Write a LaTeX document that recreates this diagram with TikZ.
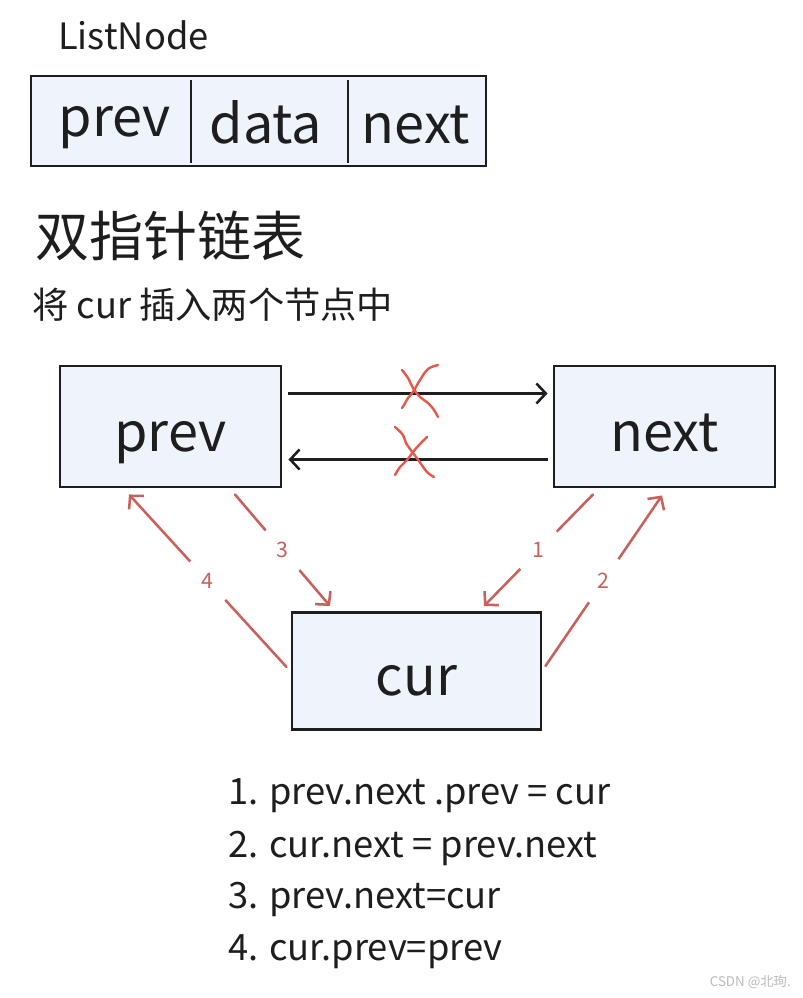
\documentclass[tikz,border=0pt]{standalone}
\usepackage{fontspec}
\setmainfont{Noto Sans CJK SC}
\usetikzlibrary{arrows.meta}
\definecolor{boxfill}{HTML}{EFF3FB}
\definecolor{ink}{HTML}{1E1E1E}
\definecolor{redarrow}{HTML}{C9605B}
\definecolor{crossred}{HTML}{E5584C}
\definecolor{wmgray}{HTML}{BBBBBB}
\newcommand{\bigfnt}{\fontsize{40.5}{48}\selectfont}
\newcommand{\midfnt}{\fontsize{27.2}{32}\selectfont}
\begin{document}
\begin{tikzpicture}[x=0.75pt,y=-0.75pt,
  bigbox/.style={draw=ink, line width=2.2pt, fill=boxfill, font=\bigfnt, text=ink,
    text height=37pt, text depth=0pt, inner sep=0pt},
  listbox/.style={draw=ink, line width=2.2pt, fill=boxfill, inner sep=0pt,
    minimum width=455*0.75pt, minimum height=90*0.75pt},
  divider/.style={draw=ink, line width=1.7pt},
  field/.style={anchor=base, inner sep=0pt, font=\bigfnt, text=ink},
  plain/.style={anchor=base west, inner sep=0pt, text=ink},
  blackarr/.style={draw=ink, line width=1.9pt, -{Straight Barb[length=7pt,width=15pt]}},
  redarr/.style={draw=redarrow, line width=1.9pt, line cap=round, -{Straight Barb[length=7pt,width=15pt]}},
  lbl/.style={circle, fill=white, minimum size=39pt, inner sep=0pt, text=redarrow,
    font=\fontsize{16}{19}\selectfont},
  crossline/.style={draw=crossred, line width=1.8pt, line cap=round, line join=round}
]
\fill[white] (0,0) rectangle (802,998);
\useasboundingbox (0,0) rectangle (802,998);

% ListNode structure
\node[plain, font=\midfnt] (lnlabel) at (58,50) {ListNode};
\node[listbox] (lbox) at (258.5,121) {};
\draw[divider] (191,80) -- (191,163);
\draw[divider] (348,80) -- (348,163);
\node[field] (fprev) at (115,137) {prev};
\node[field] (fdata) at (266,144) {data};
\node[field] (fnext) at (416,144) {next};

% titles
\node[plain, font=\bigfnt] (title) at (35,257) {双指针链表};
\node[plain, font=\midfnt] (sub) at (32,319) {将 cur 插入两个节点中};

% boxes
\node[bigbox, minimum width=221*0.75pt, minimum height=121*0.75pt] (prev) at (170.5,426.5) {prev};
\node[bigbox, minimum width=221*0.75pt, minimum height=121*0.75pt] (next) at (664.5,426.5) {next};
\node[bigbox, minimum width=249*0.75pt, minimum height=117*0.75pt] (cur) at (416.5,671) {cur};

% old links
\draw[blackarr] ([shift={(6,-33)}]prev.east) -- ([shift={(-5,-33)}]next.west);
\draw[blackarr] ([shift={(-5,33)}]next.west) -- ([shift={(6,33)}]prev.east);

% crosses
\draw[crossline] plot[smooth, tension=0.6] coordinates {(402,370) (408,378) (413,388) (420,397) (428,403) (434,410) (438,417)};
\draw[crossline] plot[smooth, tension=0.6] coordinates {(438,365) (428,369) (420,380) (413,392) (408,398) (404,405) (402,408)};
\draw[crossline] plot[smooth, tension=0.6] coordinates {(395,427) (403,435) (406,443) (413,453) (419,461) (427,472) (434,477)};
\draw[crossline] plot[smooth, tension=0.6] coordinates {(427,437) (419,445) (413,452) (407,460) (400,467) (395,475)};

% new links
\draw[redarr] ([shift={(-71.5,6)}]next.south) -- node[lbl] {1} ([shift={(67.5,-5)}]cur.north);
\draw[redarr] ([shift={(3,-5)}]cur.east) -- node[lbl] {2} ([shift={(-2.5,7)}]next.south);
\draw[redarr] ([shift={(64.5,6)}]prev.south) -- node[lbl] {3} ([shift={(-86.5,-5)}]cur.north);
\draw[redarr] ([shift={(-4,-4)}]cur.west) -- node[lbl] {4} ([shift={(-41.5,6)}]prev.south);

% steps
\node[plain, font=\midfnt] (s1) at (228,804) {1. prev.next .prev = cur};
\node[plain, font=\midfnt] (s2) at (228,857) {2. cur.next = prev.next};
\node[plain, font=\midfnt] (s3) at (228,908) {3. prev.next=cur};
\node[plain, font=\midfnt] (s4) at (228,960) {4. cur.prev=prev};

% watermark
\node[anchor=base east, inner sep=0pt, text=wmgray, font=\fontsize{10}{12}\selectfont] (wm) at (791,986) {CSDN @北珣.};
\end{tikzpicture}
\end{document}
